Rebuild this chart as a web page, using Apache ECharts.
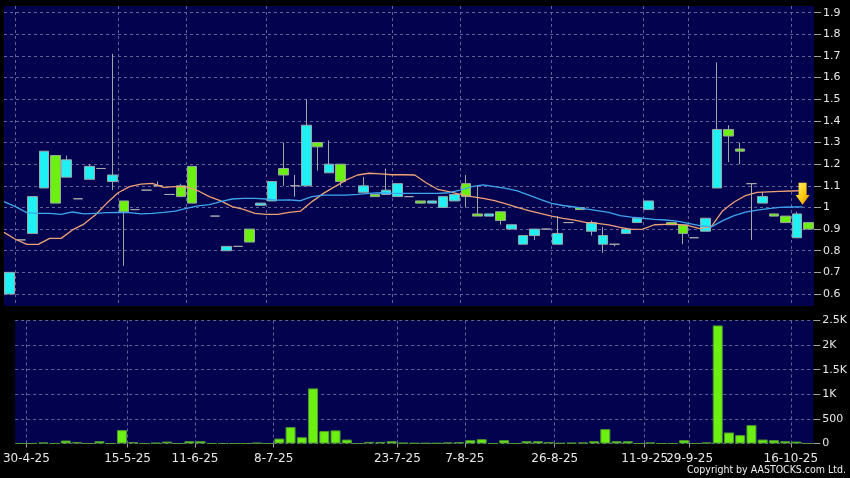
<!DOCTYPE html>
<html>
<head>
<meta charset="utf-8">
<script src="https://cdn.jsdelivr.net/npm/echarts@6/dist/echarts.min.js"></script>
<style>
  html, body { margin: 0; padding: 0; background: #000; }
  #chart { width: 850px; height: 478px; }
</style>
</head>
<body>
<div id="chart"></div>
<script>
// candle bodies: cyan = close above open, green = close below open
var opens = [0.60, 0.85, 0.88, 1.09, 1.24, 1.14, 1.04, 1.13, 1.18, 1.12,
  1.03, 0.99, 1.08, 1.10, 1.06, 1.10, 1.19, '-', 0.96, 0.80,
  0.82, 0.90, 1.01, 1.03, 1.18, 1.10, 1.10, 1.30, 1.16, 1.20,
  '-', 1.07, 1.06, 1.06, 1.05, 1.05, 1.03, 1.02, 1.00, 1.03,
  1.11, 0.97, 0.96, 0.98, 0.90, 0.83, 0.87, 0.90, 0.83, 0.93,
  1.00, 0.89, 0.83, 0.83, 0.88, 0.93, 0.99, '-', 0.93, 0.92,
  0.86, 0.89, 1.09, 1.36, 1.27, 1.11, 1.02, 0.97, 0.96, 0.86,
  0.93];
var closes = [0.70, 0.85, 1.05, 1.26, 1.02, 1.22, 1.04, 1.19, 1.18, 1.15,
  0.98, 0.99, 1.08, 1.10, 1.06, 1.05, 1.02, '-', 0.96, 0.82,
  0.82, 0.84, 1.02, 1.12, 1.15, 1.10, 1.38, 1.28, 1.20, 1.12,
  '-', 1.10, 1.05, 1.08, 1.11, 1.05, 1.02, 1.03, 1.05, 1.06,
  1.05, 0.96, 0.97, 0.94, 0.92, 0.87, 0.90, 0.90, 0.88, 0.93,
  0.99, 0.93, 0.87, 0.83, 0.90, 0.95, 1.03, '-', 0.92, 0.88,
  0.86, 0.95, 1.36, 1.33, 1.26, 1.11, 1.05, 0.96, 0.93, 0.97,
  0.90];
var lows = [0.60, 0.85, 0.88, 1.09, 1.02, 1.14, 1.04, 1.13, 1.18, 1.08,
  0.73, 0.99, 1.08, 1.10, 1.06, 1.05, 1.02, '-', 0.96, 0.80,
  0.82, 0.84, 1.01, 1.03, 1.10, 1.05, 1.10, 1.17, 1.16, 1.10,
  '-', 1.07, 1.05, 1.06, 1.05, 1.05, 1.02, 1.02, 1.00, 1.03,
  1.00, 0.96, 0.96, 0.92, 0.90, 0.83, 0.85, 0.90, 0.83, 0.93,
  0.99, 0.87, 0.79, 0.82, 0.88, 0.93, 0.99, '-', 0.92, 0.83,
  0.86, 0.89, 1.09, 1.21, 1.20, 0.85, 1.02, 0.96, 0.93, 0.86,
  0.90];
var highs = [0.70, 0.85, 1.05, 1.26, 1.24, 1.24, 1.04, 1.20, 1.18, 1.71,
  1.03, 0.99, 1.08, 1.12, 1.06, 1.11, 1.19, '-', 0.96, 0.82,
  0.82, 0.90, 1.02, 1.12, 1.30, 1.15, 1.50, 1.30, 1.31, 1.20,
  '-', 1.14, 1.06, 1.18, 1.11, 1.05, 1.03, 1.03, 1.05, 1.06,
  1.15, 1.10, 0.97, 0.98, 0.92, 0.87, 0.90, 0.90, 0.96, 0.93,
  1.00, 0.94, 0.91, 0.83, 0.90, 0.95, 1.03, '-', 0.93, 0.92,
  0.86, 0.95, 1.67, 1.38, 1.30, 1.11, 1.07, 0.97, 0.96, 0.98,
  0.93];
var volumes = [0, 0, 20, 0, 60, 27, 0, 47, 0, 272,
  27, 0, 13, 40, 0, 47, 47, 0, 0, 0,
  0, 13, 0, 100, 333, 127, 1120, 253, 267, 80,
  0, 33, 33, 47, 13, 7, 7, 7, 20, 27,
  67, 87, 0, 67, 0, 47, 47, 27, 7, 13,
  20, 47, 292, 47, 47, 0, 20, 0, 0, 67,
  0, 20, 2400, 224, 170, 373, 80, 67, 47, 40,
  0];
// moving averages, one point per slot edge
var maOrange = [0.885, 0.853, 0.829, 0.829, 0.857, 0.857, 0.896, 0.923, 0.965, 1.019,
  1.068, 1.096, 1.108, 1.111, 1.093, 1.096, 1.096, 1.077, 1.050, 1.030,
  1.004, 0.991, 0.973, 0.968, 0.968, 0.977, 0.983, 1.027, 1.065, 1.096,
  1.127, 1.150, 1.158, 1.155, 1.151, 1.151, 1.150, 1.114, 1.084, 1.073,
  1.060, 1.050, 1.042, 1.031, 1.016, 1.000, 0.985, 0.973, 0.960, 0.949,
  0.941, 0.931, 0.926, 0.919, 0.908, 0.899, 0.900, 0.920, 0.922, 0.922,
  0.916, 0.902, 0.911, 0.985, 1.025, 1.055, 1.070, 1.072, 1.074, 1.076,
  1.078];
var maBlue = [1.027, 1.004, 0.976, 0.973, 0.973, 0.968, 0.979, 0.970, 0.973, 0.976,
  0.977, 0.976, 0.970, 0.973, 0.977, 0.983, 0.996, 1.007, 1.013, 1.027,
  1.039, 1.042, 1.042, 1.039, 1.034, 1.035, 1.031, 1.050, 1.057, 1.057,
  1.057, 1.060, 1.065, 1.068, 1.065, 1.065, 1.065, 1.065, 1.065, 1.068,
  1.080, 1.096, 1.104, 1.096, 1.088, 1.077, 1.057, 1.037, 1.019, 1.009,
  1.002, 0.993, 0.985, 0.977, 0.962, 0.955, 0.950, 0.945, 0.942, 0.937,
  0.926, 0.916, 0.910, 0.939, 0.962, 0.978, 0.988, 0.995, 1.000, 1.002,
  1.003];
var tickPos = [1, 10, 16, 23, 34, 40, 48, 56, 60, 69];
var tickLabels = ['30-4-25', '15-5-25', '11-6-25', '8-7-25', '23-7-25', '7-8-25',
  '26-8-25', '11-9-25', '29-9-25', '16-10-25'];
var priceTicks = [0.6, 0.7, 0.8, 0.9, 1.0, 1.1, 1.2, 1.3, 1.4, 1.5, 1.6, 1.7, 1.8, 1.9];

var slots = opens.map(function (v, i) { return String(i); });
var edges = [];
for (var k = 0; k <= slots.length; k++) {
  var p = tickPos.indexOf(k);
  edges.push(p >= 0 ? tickLabels[p] : '');
}
var candleData = opens.map(function (o, i) {
  return [o, closes[i], lows[i], highs[i]];
});
function atTick(idx) {
  return tickPos.indexOf(idx) >= 0;
}

var navy = '#02024f';
var gridLine = { show: true, interval: atTick, lineStyle: { color: '#62629a', type: [3, 3], width: 1 } };
var hGridLine = { show: true, lineStyle: { color: '#62629a', type: [3, 3], width: 1 } };
var labelColor = '#e8e8e8';

var option = {
  backgroundColor: '#000',
  animation: false,
  grid: [
    { left: 4, right: 36, top: 6, height: 300, show: true, backgroundColor: navy, borderWidth: 0 },
    { left: 4, right: 36, top: 320.5, height: 123, show: true, backgroundColor: navy, borderWidth: 0 }
  ],
  xAxis: [
    { type: 'category', gridIndex: 0, data: slots, boundaryGap: true, show: false },
    {
      type: 'category', gridIndex: 0, data: edges, boundaryGap: false,
      axisLine: { show: false }, axisTick: { show: false }, axisLabel: { show: false },
      splitLine: gridLine
    },
    { type: 'category', gridIndex: 1, data: slots, boundaryGap: true, show: false },
    {
      type: 'category', gridIndex: 1, data: edges, boundaryGap: false, position: 'bottom',
      axisLine: { show: false },
      axisTick: { show: true, interval: atTick, length: 4, lineStyle: { color: '#a0a0a0' } },
      axisLabel: {
        show: true, interval: atTick, color: labelColor, fontSize: 12,
        fontFamily: 'DejaVu Sans', margin: 9
      },
      splitLine: gridLine
    }
  ],
  yAxis: [
    {
      type: 'value', gridIndex: 0, position: 'right', min: 0.5445, max: 1.931, scale: true,
      axisLine: { show: false },
      axisTick: { show: true, length: 7, customValues: priceTicks, lineStyle: { color: '#a0a0a0' } },
      axisLabel: {
        customValues: priceTicks, color: labelColor, fontSize: 11, fontFamily: 'DejaVu Sans', margin: 9,
        formatter: function (v) { return String(+v.toFixed(1)); }
      },
      splitLine: hGridLine
    },
    {
      type: 'value', gridIndex: 1, position: 'right', min: 0, max: 2500, interval: 500,
      axisLine: { show: false },
      axisTick: { show: true, length: 7, lineStyle: { color: '#a0a0a0' } },
      axisLabel: {
        color: labelColor, fontSize: 11, fontFamily: 'DejaVu Sans', margin: 9,
        formatter: function (v) { return v >= 1000 ? (v / 1000) + 'K' : String(v); }
      },
      splitLine: hGridLine
    }
  ],
  graphic: [
    {
      type: 'text', right: 4, top: 465,
      style: {
        text: 'Copyright by AASTOCKS.com Ltd.', fill: '#f0f0f0',
        font: '10.5px "DejaVu Sans Condensed", "DejaVu Sans"'
      }
    }
  ],
  series: [
    {
      name: 'price', type: 'candlestick', xAxisIndex: 0, yAxisIndex: 0,
      barWidth: 10,
      itemStyle: {
        color: '#1ef0f4', color0: '#6cf012',
        borderColor: '#9aa8aa', borderColor0: '#9aa89a', borderColorDoji: '#aaaaaa',
        borderWidth: 1
      },
      data: candleData
    },
    {
      name: 'ma1', type: 'line', xAxisIndex: 1, yAxisIndex: 0,
      showSymbol: false, symbol: 'none',
      lineStyle: { color: '#eea274', width: 1.3 },
      data: maOrange,
      markPoint: {
        symbol: 'path://M3,0 L11,0 L11,11 L14,11 L7,20 L0,11 L3,11 Z',
        symbolSize: [14, 22],
        label: { show: false },
        itemStyle: {
          color: new echarts.graphic.LinearGradient(0, 0, 1, 1, [
            { offset: 0, color: '#fff27a' },
            { offset: 0.55, color: '#ffcc10' },
            { offset: 1, color: '#e88a00' }
          ])
        },
        data: [{ coord: [70, 1.063] }]
      }
    },
    {
      name: 'ma2', type: 'line', xAxisIndex: 1, yAxisIndex: 0,
      showSymbol: false, symbol: 'none',
      lineStyle: { color: '#3fa6ee', width: 1.3 },
      data: maBlue
    },
    {
      name: 'volume', type: 'bar', xAxisIndex: 2, yAxisIndex: 1,
      barWidth: 10,
      itemStyle: { color: '#6cf012', borderColor: '#4f9a2c', borderWidth: 1 },
      data: volumes
    }
  ]
};

var myChart = echarts.init(document.getElementById('chart'));
myChart.setOption(option);
</script>
</body>
</html>
